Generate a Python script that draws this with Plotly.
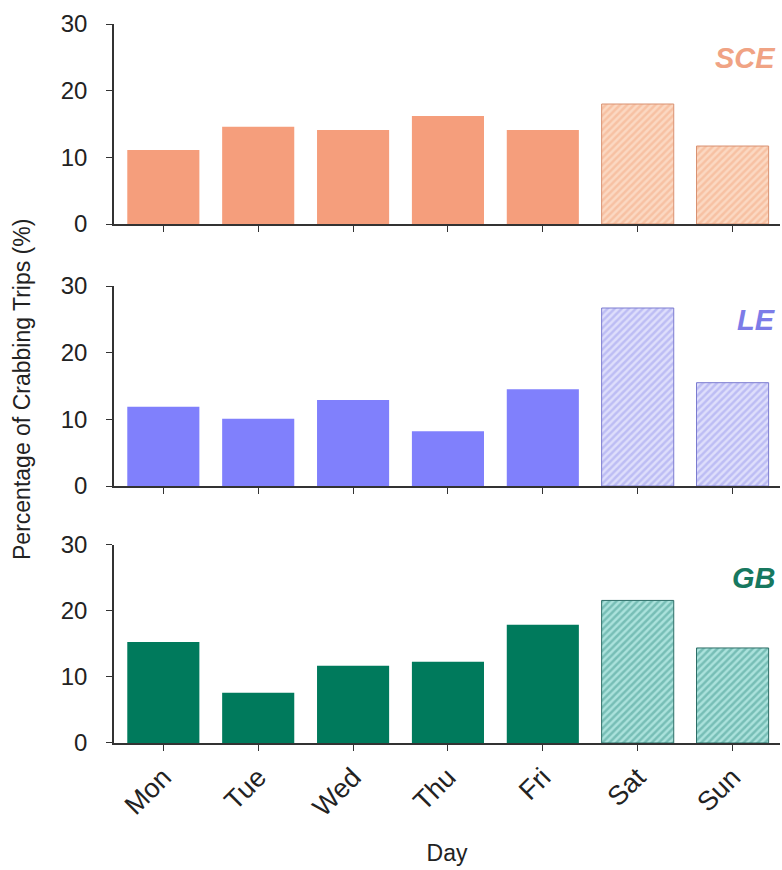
import plotly.graph_objects as go

# Share of crabbing trips by day of week, three areas
days = ["Mon", "Tue", "Wed", "Thu", "Fri", "Sat", "Sun"]
weekend_days = ["Sat", "Sun"]
sce = [11.1, 14.6, 14.1, 16.2, 14.1, 18.0, 11.7]
le = [11.9, 10.1, 12.9, 8.2, 14.5, 26.7, 15.5]
gb = [15.3, 7.6, 11.7, 12.3, 17.9, 21.6, 14.4]

areas = ["SCE", "LE", "GB"]
series = [sce, le, gb]

# styling per area: solid weekday colour, weekend hatch colours
styles = {
    "SCE": dict(solid="#F59E7C", bg="#FBD8C2", fg="#F4AA84", edge="#D99272", text="#F0A384"),
    "LE": dict(solid="#8080FC", bg="#DEDEFB", fg="#9C9CEE", edge="#7C7CD0", text="#7C7CE8"),
    "GB": dict(solid="#007A5C", bg="#ABE2DC", fg="#44998F", edge="#2E6F68", text="#17785F"),
}

# vertical extents of each panel (paper fraction) and label heights
domains = [[0.7218, 1.0], [0.3574, 0.6356], [0.0, 0.2754]]
label_y = [0.9527, 0.588, 0.2295]

font_family = "Liberation Sans, Arial, sans-serif"
fig = go.Figure()

for i, (area, vals) in enumerate(zip(areas, series)):
    st = styles[area]
    xa = "x" if i == 0 else f"x{i+1}"
    ya = "y" if i == 0 else f"y{i+1}"
    wk_x = [d for d in days if d not in weekend_days]
    wk_y = [v for d, v in zip(days, vals) if d not in weekend_days]
    we_x = [d for d in days if d in weekend_days]
    we_y = [v for d, v in zip(days, vals) if d in weekend_days]
    fig.add_trace(go.Bar(
        x=wk_x, y=wk_y, xaxis=xa, yaxis=ya, width=0.76,
        marker=dict(color=st["solid"], line=dict(width=0)),
        showlegend=False,
    ))
    fig.add_trace(go.Bar(
        x=we_x, y=we_y, xaxis=xa, yaxis=ya, width=0.76,
        marker=dict(
            color=st["bg"],
            line=dict(width=1, color=st["edge"]),
            pattern=dict(shape="/", fgcolor=st["fg"], bgcolor=st["bg"],
                         size=5, solidity=0.5, fillmode="overlay"),
        ),
        showlegend=False,
    ))
    fig.add_annotation(
        x=0.997, xref="paper", xanchor="right",
        y=label_y[i], yref="paper", yanchor="middle",
        text=f"<b><i>{area}</i></b>", showarrow=False,
        font=dict(size=29, color=st["text"], family=font_family),
    )
    key_x = "xaxis" if i == 0 else f"xaxis{i+1}"
    key_y = "yaxis" if i == 0 else f"yaxis{i+1}"
    fig.layout[key_x] = dict(
        domain=[0, 1], anchor=ya, type="category",
        categoryorder="array", categoryarray=days,
        range=[-0.52, 6.5],
        showline=True, linecolor="#333333", linewidth=1.5,
        ticks="outside", ticklen=6, tickcolor="#333333",
        showticklabels=(i == 2), tickangle=-45,
        tickfont=dict(size=27, color="#222222", family=font_family),
        showgrid=False, zeroline=False,
    )
    fig.layout[key_y] = dict(
        domain=domains[i], anchor=xa, range=[0, 30],
        tickvals=[0, 10, 20, 30],
        showline=True, linecolor="#333333", linewidth=1.5,
        ticks="outside", ticklen=6, tickcolor="#333333",
        ticklabelstandoff=14,
        tickfont=dict(size=24, color="#222222", family=font_family),
        showgrid=False, zeroline=False,
    )

fig.update_layout(
    width=782, height=870,
    margin=dict(l=114, r=2, t=24, b=127),
    plot_bgcolor="white", paper_bgcolor="white",
    barmode="overlay",
    font=dict(family=font_family, color="#222222"),
)
fig.layout.xaxis3.title = dict(text="Day", font=dict(size=23, family=font_family), standoff=24)

# shared y title spanning all three panels
fig.add_annotation(
    x=(22 - 114) / 666, xref="paper", xanchor="center",
    y=0.491, yref="paper", yanchor="middle",
    text="Percentage of Crabbing Trips (%)", textangle=-90, showarrow=False,
    font=dict(size=23, color="#222222", family=font_family),
)

fig.write_html("out.html")
